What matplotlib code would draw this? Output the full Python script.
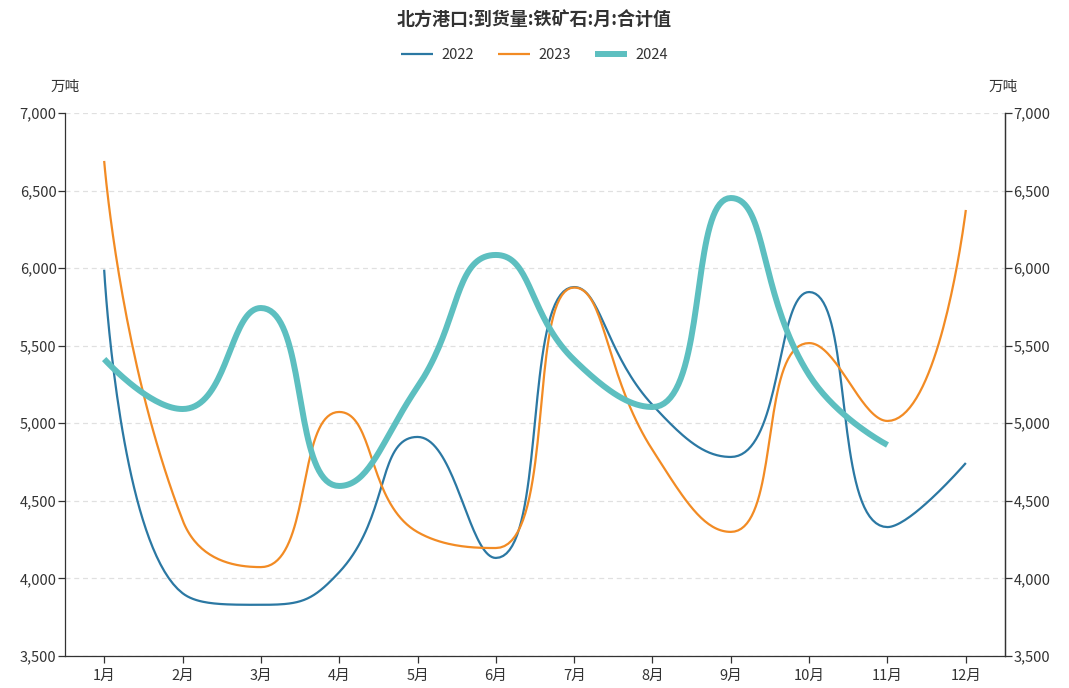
import numpy as np
import matplotlib
matplotlib.use("Agg")
import matplotlib.pyplot as plt
from matplotlib.ticker import FuncFormatter

plt.rcParams['font.family'] = ['Noto Sans CJK SC', 'DejaVu Sans']

months = ["1月", "2月", "3月", "4月", "5月", "6月", "7月", "8月", "9月", "10月", "11月", "12月"]
v2022 = [5990, 3905, 3830, 4040, 4912, 4132, 5878, 5118, 4783, 5846, 4331, 4744]
v2023 = [6691, 4377, 4073, 5073, 4299, 4196, 5875, 4828, 4300, 5517, 5015, 6375]
v2024 = [5414, 5092, 5743, 4596, 5234, 6085, 5408, 5105, 6452, 5311, 4860]

# pixel-ish scale used for the smoothing (x px per category, px per unit y)
SX = 78.3
SY = 77.6 / 500.0


def smooth_line(vals, smooth=0.5, n=40):
    # echarts-like bezier smoothing, done in screen-like units
    pts = [(i * SX, v * SY) for i, v in enumerate(vals)]
    xs_out, ys_out = [pts[0][0]], [pts[0][1]]
    cp0 = pts[0]
    for k in range(1, len(pts)):
        px, py = pts[k - 1]
        x, y = pts[k]
        if k < len(pts) - 1:
            nx, ny = pts[k + 1]
            vx, vy = nx - px, ny - py
            l0 = np.hypot(x - px, y - py)
            l1 = np.hypot(nx - x, ny - y)
            r = l1 / (l0 + l1)
            ncx = x + vx * smooth * r
            ncy = y + vy * smooth * r
            ncx = min(ncx, max(nx, x)); ncx = max(ncx, min(nx, x))
            ncy = min(ncy, max(ny, y)); ncy = max(ncy, min(ny, y))
            vx, vy = ncx - x, ncy - y
            c1x = x - vx * l0 / l1
            c1y = y - vy * l0 / l1
            c1x = min(c1x, max(px, x)); c1x = max(c1x, min(px, x))
            c1y = min(c1y, max(py, y)); c1y = max(c1y, min(py, y))
            vx, vy = x - c1x, y - c1y
            ncx = x + vx * l1 / l0
            ncy = y + vy * l1 / l0
        else:
            c1x, c1y = x, y
            ncx, ncy = x, y
        t = np.linspace(0, 1, n)[1:]
        a = (1 - t) ** 3
        b = 3 * (1 - t) ** 2 * t
        c = 3 * (1 - t) * t ** 2
        d = t ** 3
        xs_out.extend(a * px + b * cp0[0] + c * c1x + d * x)
        ys_out.extend(a * py + b * cp0[1] + c * c1y + d * y)
        cp0 = (ncx, ncy)
    return np.array(xs_out) / SX, np.array(ys_out) / SY


fig = plt.figure(figsize=(10.69, 6.88), dpi=100)
ax = fig.add_axes([65 / 1069, (688 - 656) / 688, (1005 - 65) / 1069, (656 - 113) / 688])

colors = {"2022": "#2b78a3", "2023": "#f28b24", "2024": "#5dbfc0"}
widths = {"2022": 1.6, "2023": 1.6, "2024": 4.3}
for name, vals in [("2022", v2022), ("2023", v2023), ("2024", v2024)]:
    xs, ys = smooth_line(vals)
    ax.plot(xs, ys, color=colors[name], lw=widths[name], label=name,
            solid_capstyle="butt", zorder=3)

ax.set_xlim(-0.5, len(months) - 0.5)
ax.set_ylim(3500, 7000)
ax.set_yticks(np.arange(3500, 7001, 500))
ax.yaxis.set_major_formatter(FuncFormatter(lambda v, p: f"{int(v):,}"))
ax.set_xticks(range(len(months)))
ax.set_xticklabels(months)
ax.grid(axis="y", color="#e0e0e0", ls=(0, (4, 3)), lw=0.9)
ax.set_axisbelow(True)

for s in ["top"]:
    ax.spines[s].set_visible(False)
for s in ["left", "right", "bottom"]:
    ax.spines[s].set_color("#333333")
    ax.spines[s].set_linewidth(0.9)
ax.tick_params(axis="both", colors="#333333", labelsize=10.5, length=5, width=0.9)
ax.tick_params(axis="x", pad=4)
ax.tick_params(axis="y", pad=1)

ax2 = ax.twinx()
ax2.set_ylim(ax.get_ylim())
ax2.set_yticks(np.arange(3500, 7001, 500))
ax2.yaxis.set_major_formatter(FuncFormatter(lambda v, p: f"{int(v):,}"))
ax2.tick_params(axis="y", colors="#333333", labelsize=10.5, length=5, width=0.9, pad=1)
for s in ["top", "left", "bottom"]:
    ax2.spines[s].set_visible(False)
ax2.spines["right"].set_color("#333333")
ax2.spines["right"].set_linewidth(0.9)

fig.text(65 / 1069, 1 - 87 / 688, "万吨", ha="center", va="center", fontsize=10.5, color="#333333")
fig.text(1003 / 1069, 1 - 87 / 688, "万吨", ha="center", va="center", fontsize=10.5, color="#333333")
fig.text(0.5, 1 - 20 / 688, "北方港口:到货量:铁矿石:月:合计值", ha="center", va="center",
         fontsize=13, fontweight="bold", color="#333333")

leg = fig.legend(loc="center", bbox_to_anchor=(0.5, 1 - 55 / 688), ncol=3, frameon=False,
                 fontsize=10.5, handlelength=2.2, columnspacing=1.6, handletextpad=0.6)
for t in leg.get_texts():
    t.set_color("#333333")

fig.savefig("out.png", dpi=100)
